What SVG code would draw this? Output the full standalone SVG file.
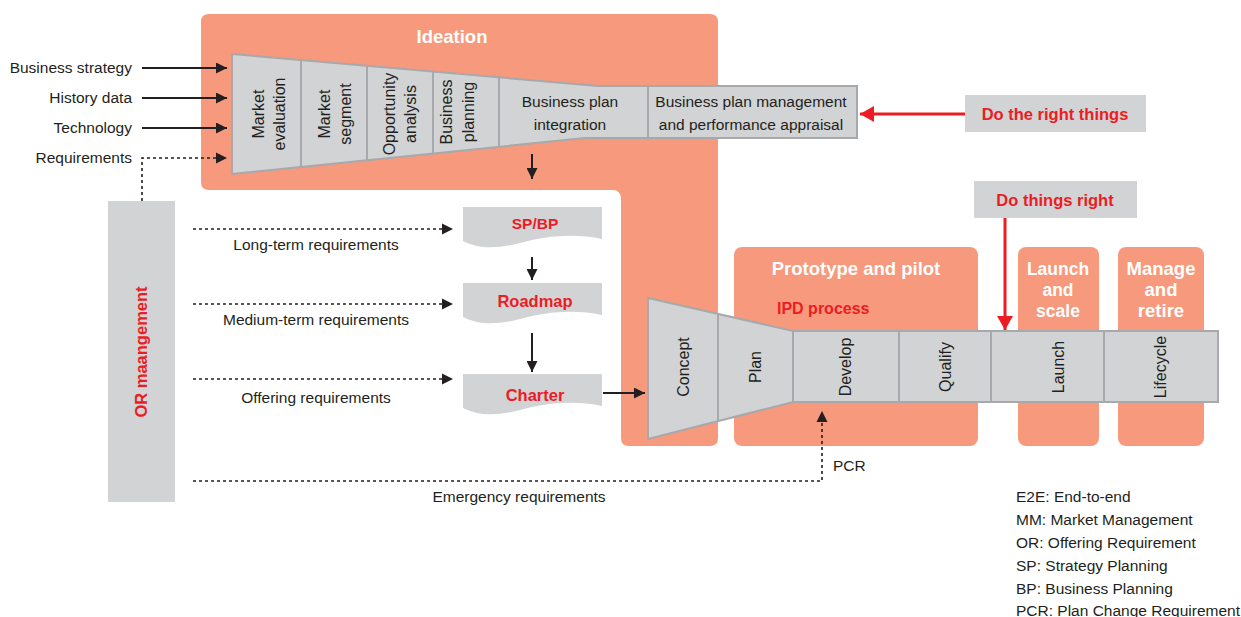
<svg xmlns="http://www.w3.org/2000/svg" width="1241" height="617" viewBox="0 0 1241 617">
<style>
.salmon{fill:#F6997C}
.grey{fill:#D1D3D4}
.gs{fill:#D1D3D4;stroke:#A7A9AC;stroke-width:2}
.div{stroke:#A7A9AC;stroke-width:2;fill:none}
.t{font-family:"Liberation Sans",Arial,sans-serif;font-size:15.5px;fill:#231F20}
.tr{font-family:"Liberation Sans",Arial,sans-serif;font-size:16px;fill:#231F20;text-anchor:middle}
.c{text-anchor:middle}
.e{text-anchor:end}
.wb{font-family:"Liberation Sans",Arial,sans-serif;font-size:18.5px;font-weight:bold;fill:#FFFFFF;text-anchor:middle}
.rb{font-family:"Liberation Sans",Arial,sans-serif;font-size:16.5px;font-weight:bold;fill:#ED1C24}
.arr{stroke:#231F20;stroke-width:2;fill:none}
.dot{stroke:#231F20;stroke-width:1.6;stroke-dasharray:3,3;fill:none}
.red{stroke:#ED1C24;stroke-width:3;fill:none}
</style>
<defs>
<marker id="ah" markerUnits="userSpaceOnUse" markerWidth="11" markerHeight="11" refX="11" refY="5.5" orient="auto"><path d="M0,0 L11,5.5 L0,11 Z" fill="#231F20"/></marker>
<marker id="rh" markerUnits="userSpaceOnUse" markerWidth="14" markerHeight="16" refX="14" refY="8" orient="auto"><path d="M0,0 L14,8 L0,16 Z" fill="#ED1C24"/></marker>
</defs>

<g id="ideation">
<path class="salmon" d="M209,14 H710 Q718,14 718,22 V438 Q718,446 710,446 H629 Q621,446 621,438 V198 A8,8 0 0 0 613,190 H209 Q201,190 201,182 V22 Q201,14 209,14 Z"/>
<text class="wb" x="452" y="43">Ideation</text>
</g>

<g id="prototype">
<rect class="salmon" x="734" y="247" width="244" height="199" rx="8"/>
<text class="wb" x="856" y="275">Prototype and pilot</text>
<text class="rb" x="777" y="314" style="font-size:16px">IPD process</text>
</g>
<g id="launch-scale">
<rect class="salmon" x="1018" y="247" width="81" height="199" rx="8"/>
<text class="wb" x="1058" y="275" style="font-size:17.5px">Launch</text>
<text class="wb" x="1058" y="296" style="font-size:17.5px">and</text>
<text class="wb" x="1058" y="317" style="font-size:17.5px">scale</text>
</g>
<g id="manage-retire">
<rect class="salmon" x="1118" y="247" width="86" height="199" rx="8"/>
<text class="wb" x="1161" y="275">Manage</text>
<text class="wb" x="1161" y="296">and</text>
<text class="wb" x="1161" y="317">retire</text>
</g>

<g id="mm-funnel">
<polygon class="gs" points="232,54 598,86 857,86 857,138 585,138 232,174"/>
<line class="div" x1="301" y1="60" x2="301" y2="167"/>
<line class="div" x1="367" y1="66" x2="367" y2="160"/>
<line class="div" x1="433" y1="72" x2="433" y2="154"/>
<line class="div" x1="499" y1="77" x2="499" y2="147"/>
<line class="div" x1="648" y1="86" x2="648" y2="138"/>
<text class="tr" transform="translate(264,114) rotate(-90)">Market</text>
<text class="tr" transform="translate(285,114) rotate(-90)">evaluation</text>
<text class="tr" transform="translate(330,114) rotate(-90)">Market</text>
<text class="tr" transform="translate(351,114) rotate(-90)">segment</text>
<text class="tr" transform="translate(395,114) rotate(-90)">Opportunity</text>
<text class="tr" transform="translate(416,114) rotate(-90)">analysis</text>
<text class="tr" transform="translate(452,112) rotate(-90)">Business</text>
<text class="tr" transform="translate(474,112) rotate(-90)">planning</text>
<text class="t c" x="570" y="107">Business plan</text>
<text class="t c" x="570" y="130">integration</text>
<text class="t c" x="751" y="107">Business plan management</text>
<text class="t c" x="751" y="130">and performance appraisal</text>
</g>

<g id="ipd-process">
<polygon class="gs" points="648,298 793,331 1218,331 1218,402 793,402 648,439"/>
<line class="div" x1="718" y1="314" x2="718" y2="421"/>
<line class="div" x1="793" y1="331" x2="793" y2="402"/>
<line class="div" x1="899" y1="331" x2="899" y2="402"/>
<line class="div" x1="991" y1="331" x2="991" y2="402"/>
<line class="div" x1="1104" y1="331" x2="1104" y2="402"/>
<text class="tr" transform="translate(689,367) rotate(-90)">Concept</text>
<text class="tr" transform="translate(761,367) rotate(-90)">Plan</text>
<text class="tr" transform="translate(851,367) rotate(-90)">Develop</text>
<text class="tr" transform="translate(951,367) rotate(-90)">Qualify</text>
<text class="tr" transform="translate(1064,367) rotate(-90)">Launch</text>
<text class="tr" transform="translate(1166,367) rotate(-90)">Lifecycle</text>
</g>

<g id="do-right-things">
<rect class="grey" x="965" y="95" width="181" height="37"/>
<text class="rb c" x="1055" y="120">Do the right things</text>
</g>
<g id="do-things-right">
<rect class="grey" x="974" y="181" width="163" height="37"/>
<text class="rb c" x="1055" y="206">Do things right</text>
</g>

<g id="spbp">
<path class="grey" d="M463,207 H602 V239 C575,233 545,236 520,243 C498,249 478,249 463,241 Z"/>
<text class="rb c" x="535" y="229" style="font-size:15.5px">SP/BP</text>
</g>
<g id="roadmap">
<path class="grey" d="M463,283 H602 V315 C575,309 545,312 520,319 C498,325 478,325 463,317 Z"/>
<text class="rb c" x="535" y="307">Roadmap</text>
</g>
<g id="charter">
<path class="grey" d="M463,374 H602 V406 C575,400 545,403 520,410 C498,416 478,416 463,408 Z"/>
<text class="rb c" x="535" y="401">Charter</text>
</g>

<g id="or-management">
<rect class="grey" x="108" y="201" width="67" height="301"/>
<text class="rb c" transform="translate(147,352) rotate(-90)">OR maangement</text>
</g>

<g id="inputs">
<text class="t e" x="132" y="73">Business strategy</text>
<text class="t e" x="132" y="103">History data</text>
<text class="t e" x="132" y="133">Technology</text>
<text class="t e" x="132" y="163">Requirements</text>
</g>

<g id="connectors">
<line class="arr" x1="142" y1="68" x2="227" y2="68" marker-end="url(#ah)"/>
<line class="arr" x1="142" y1="98" x2="227" y2="98" marker-end="url(#ah)"/>
<line class="arr" x1="142" y1="128" x2="227" y2="128" marker-end="url(#ah)"/>
<path class="dot" d="M142,201 V158 H217"/>
<path d="M216,152.5 L227,158 L216,163.5 Z" fill="#231F20"/>
<line class="arr" x1="532" y1="154" x2="532" y2="179" marker-end="url(#ah)"/>
<line class="arr" x1="532" y1="257" x2="532" y2="280" marker-end="url(#ah)"/>
<line class="arr" x1="532" y1="333" x2="532" y2="372" marker-end="url(#ah)"/>
<line class="arr" x1="603" y1="393" x2="645" y2="393" marker-end="url(#ah)"/>
<line class="dot" x1="193" y1="229" x2="443" y2="229"/>
<path d="M442,223.5 L453,229 L442,234.5 Z" fill="#231F20"/>
<line class="dot" x1="193" y1="304" x2="443" y2="304"/>
<path d="M442,298.5 L453,304 L442,309.5 Z" fill="#231F20"/>
<line class="dot" x1="193" y1="379" x2="443" y2="379"/>
<path d="M442,373.5 L453,379 L442,384.5 Z" fill="#231F20"/>
<path class="dot" d="M193,481 H822 V421"/>
<path d="M816.5,422 L822,411 L827.5,422 Z" fill="#231F20"/>
<line class="red" x1="965" y1="114" x2="860" y2="114" marker-end="url(#rh)"/>
<line class="red" x1="1005" y1="218" x2="1005" y2="330" marker-end="url(#rh)"/>
</g>

<g id="labels">
<text class="t c" x="316" y="250">Long-term requirements</text>
<text class="t c" x="316" y="325">Medium-term requirements</text>
<text class="t c" x="316" y="403">Offering requirements</text>
<text class="t c" x="519" y="502">Emergency requirements</text>
<text class="t" x="833" y="471">PCR</text>
</g>

<g id="legend">
<text class="t" x="1016" y="502">E2E: End-to-end</text>
<text class="t" x="1016" y="525">MM: Market Management</text>
<text class="t" x="1016" y="548">OR: Offering Requirement</text>
<text class="t" x="1016" y="571">SP: Strategy Planning</text>
<text class="t" x="1016" y="594">BP: Business Planning</text>
<text class="t" x="1016" y="616">PCR: Plan Change Requirement</text>
</g>
</svg>
